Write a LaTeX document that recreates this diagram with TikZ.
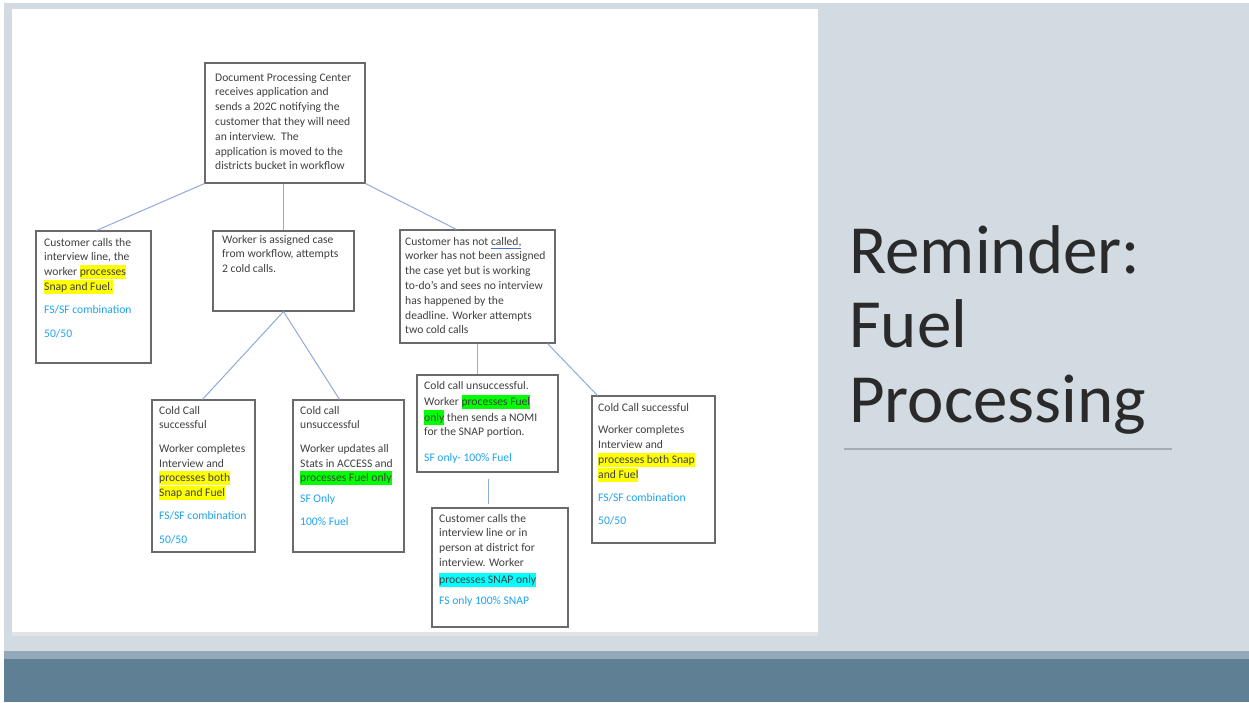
\documentclass[tikz,border=0pt]{standalone}
\usepackage{fontspec}
\setmainfont{Carlito}
\usetikzlibrary{calc}
\definecolor{slidebg}{HTML}{D2DAE2}
\definecolor{bandlight}{HTML}{93A8B8}
\definecolor{banddark}{HTML}{5F7F95}
\definecolor{panelshade}{HTML}{E2E3E4}
\definecolor{cardline}{HTML}{6A6A6A}
\definecolor{linkblue}{HTML}{8FAADC}
\definecolor{bodytext}{HTML}{404040}
\definecolor{infoblue}{HTML}{1FA3EC}
\definecolor{titletext}{HTML}{2A2A2A}
\definecolor{titlerule}{HTML}{A3ABB3}
\definecolor{gramblue}{HTML}{4472C4}
\definecolor{hlyellow}{HTML}{FFFF00}
\definecolor{hlgreen}{HTML}{00FF00}
\definecolor{hlcyan}{HTML}{00FFFF}
% highlighted run of text
\newcommand\hlt[2]{{\fboxsep=0pt\colorbox{#1}{\rule[-3.6pt]{0pt}{14.4pt}#2}}}
% blue figures under each outcome
\newcommand\fig[1]{{\color{infoblue}#1}}
\newcommand\gramline[1]{{\color{gramblue}\underline{\color{bodytext}#1}}}
\begin{document}
\begin{tikzpicture}[x=1pt,y=-1pt,
  card/.style={draw=cardline, line width=1.1pt, fill=white, inner sep=0pt},
  body/.style={anchor=north west, inner sep=0pt, text=bodytext, align=left,
    font=\fontsize{11.6}{14.8}\selectfont},
  link/.style={draw=linkblue, line width=1pt},
  headline/.style={anchor=base west, inner sep=0pt, text=titletext,
    font=\fontsize{69}{74.5}\selectfont}]
\useasboundingbox (0,0) rectangle (1249,702);

% slide background, panel and footer band
\fill[white] (0,0) rectangle (1249,702);
\fill[slidebg] (4,3) rectangle (1249,702);
\fill[panelshade] (12,632) rectangle (818,636);
\fill[white] (12,9) rectangle (818,632);
\fill[bandlight] (4,651) rectangle (1249,659);
\fill[banddark] (4,659) rectangle (1249,702);

% flow chart boxes
\node[card, minimum width=160pt, minimum height=120pt] (dpc) at (285,123) {};
\node[card, minimum width=115pt, minimum height=132pt] (walkin) at (93.5,297) {};
\node[card, minimum width=141pt, minimum height=80pt] (assign) at (283.5,271) {};
\node[card, minimum width=155pt, minimum height=113pt] (nocall) at (477.5,286.5) {};
\node[card, minimum width=103pt, minimum height=152pt] (ccok) at (203.5,476) {};
\node[card, minimum width=111pt, minimum height=152pt] (ccfail) at (348.5,476) {};
\node[card, minimum width=141pt, minimum height=97pt] (nomi) at (487.5,423.5) {};
\node[card, minimum width=136pt, minimum height=119pt] (snap) at (500,567.5) {};
\node[card, minimum width=123pt, minimum height=147pt] (lateok) at (653.5,469.5) {};

% box texts
\node[body] (dpc-t) at (215,70.6) {\strut Document Processing Center\\
receives application and\\
sends a 202C notifying the\\
customer that they will need\\
an interview.\ \ The\\
application is moved to the\\
districts bucket in workflow};

\node[body] (walkin-t) at (44,235.6) {\strut Customer calls the\\
interview line, the\\
worker \hlt{hlyellow}{processes}\\
\hlt{hlyellow}{Snap and Fuel.}\\[8.5pt]
\fig{FS/SF combination}\\[8.5pt]
\fig{50/50}};

\node[body] (assign-t) at (222,232.6) {\strut Worker is assigned case\\
from workflow, attempts\\
2 cold calls.};

\node[body] (nocall-t) at (405,234.6) {\strut Customer has not \gramline{called,}\\
worker has not been assigned\\
the case yet but is working\\
to-do’s and sees no interview\\
has happened by the\\
deadline. Worker attempts\\
two cold calls};

\node[body] (ccok-t) at (159,403.6) {\strut Cold Call\\
successful\\[8.5pt]
Worker completes\\
Interview and\\
\hlt{hlyellow}{processes both}\\
\hlt{hlyellow}{Snap and Fuel}\\[8.5pt]
\fig{FS/SF combination}\\[8.5pt]
\fig{50/50}};

\node[body] (ccfail-t) at (300,403.6) {\strut Cold call\\
unsuccessful\\[8.5pt]
Worker updates all\\
Stats in ACCESS and\\
\hlt{hlgreen}{processes Fuel only}\\[6pt]
\fig{SF Only}\\[8.5pt]
\fig{100\% Fuel}};

\node[body, font=\fontsize{11.6}{14}\selectfont] (nomi-t) at (424,379.6) {\strut Cold call unsuccessful.\\
Worker \hlt{hlgreen}{processes Fuel}\\
\hlt{hlgreen}{only} then sends a NOMI\\
for the SNAP portion.\\[12pt]
\fig{SF only- 100\% Fuel}};

\node[body] (snap-t) at (439,511.6) {\strut Customer calls the\\
interview line or in\\
person at district for\\
interview. Worker\\[2pt]
\hlt{hlcyan}{processes SNAP only}\\[6pt]
\fig{FS only 100\% SNAP}};

\node[body] (lateok-t) at (598,400.6) {\strut Cold Call successful\\[8pt]
Worker completes\\
Interview and\\
\hlt{hlyellow}{processes both Snap}\\
\hlt{hlyellow}{and Fuel}\\[8.5pt]
\fig{FS/SF combination}\\[8pt]
\fig{50/50}};

% connectors
\draw[link] (dpc.south west) -- ([xshift=3pt]walkin.north);
\draw[link] (dpc.south -| assign.north) -- (assign.north);
\draw[link] (dpc.south east) -- ([xshift=57pt]nocall.north west);
\draw[link] (assign.south) -- ([xshift=51pt]ccok.north west);
\draw[link] (assign.south) -- ([xshift=47pt]ccfail.north west);
\draw[link] (nocall.south) -- (nocall.south |- nomi.north);
\draw[link] ([xshift=-8pt]nocall.south east) -- ([xshift=6pt]lateok.north west);
\draw[link, shorten <=6pt, shorten >=3pt] ([xshift=0.5pt]nomi.south) -- ([xshift=0.5pt]nomi.south |- snap.north);

% slide title
\node[headline] (title1) at (849,273) {Reminder:};
\node[headline] (title2) at (849,347.5) {Fuel};
\node[headline] (title3) at (849,422) {Processing};
\draw[titlerule, line width=1.5pt] (844,449) -- (1172,449);
\end{tikzpicture}
\end{document}
